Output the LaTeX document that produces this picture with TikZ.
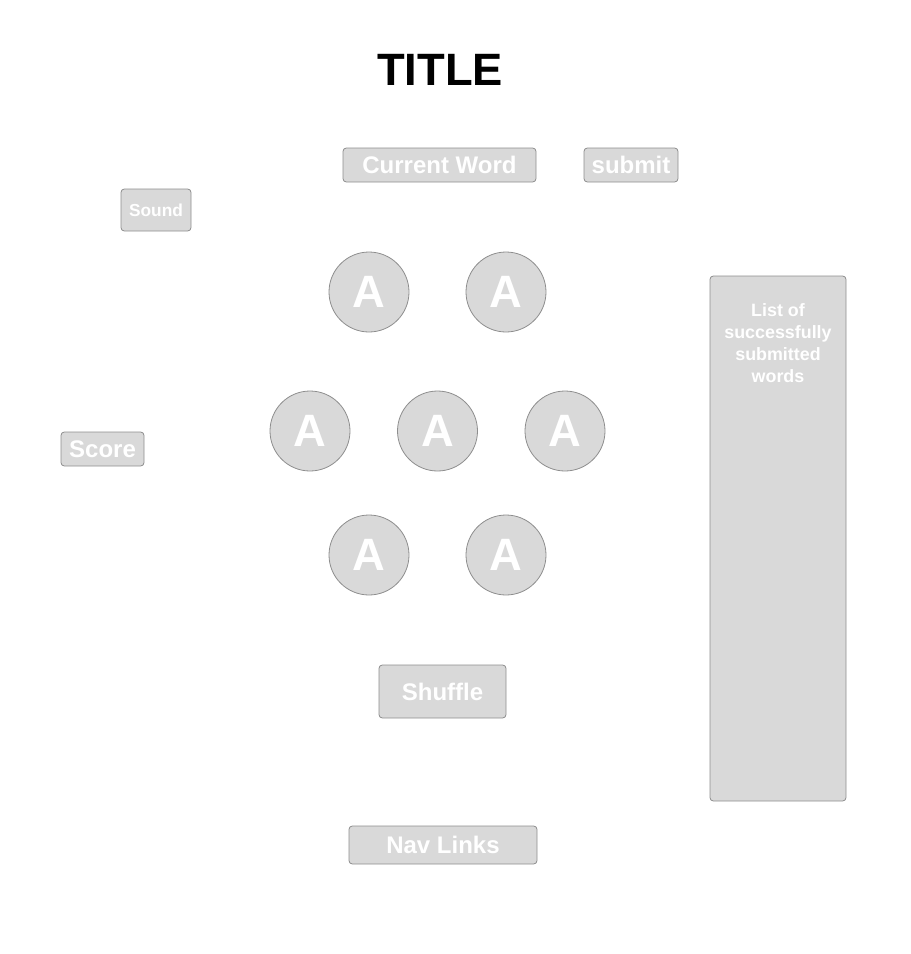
\documentclass[tikz,border=0pt]{standalone}
\usepackage{fontspec}
\setmainfont{Liberation Sans}
\usetikzlibrary{positioning}

\definecolor{boxgray}{HTML}{D9D9D9}
\definecolor{edgegray}{HTML}{8E8E8E}

\tikzset{
    button/.style={draw=edgegray, fill=boxgray, rounded corners=2.5pt, line width=0.6pt,
                   text=white, font=\bfseries\fontsize{18}{22}\selectfont, inner sep=0pt},
    tile/.style={draw=edgegray, fill=boxgray, circle, minimum size=60pt, line width=0.6pt,
                 text=white, font=\bfseries\fontsize{34}{36}\selectfont, inner sep=0pt}
}

\begin{document}
\begin{tikzpicture}[x=0.75pt, y=-0.75pt]
            \useasboundingbox (0, 0) rectangle (911, 954);
            \node (title) [font=\bfseries\fontsize{34}{40}\selectfont] at (440, 70) {TITLE};
            \node[button, minimum width=144.75pt, minimum height=25.5pt] (word) at (439.5, 165) {\raisebox{-0.75pt}{Current Word}};
            \node[button, minimum width=70.5pt, minimum height=25.5pt] (submit) at (631, 165) {\raisebox{-0.75pt}{submit}};
            \node[button, minimum width=52.5pt, minimum height=31.5pt, font=\bfseries\fontsize{13}{15}\selectfont] (sound) at (156, 210) {\raisebox{-0.75pt}{Sound}};
            \node[button, minimum width=62.25pt, minimum height=25.5pt] (score) at (102.5, 449) {\raisebox{-0.75pt}{Score}};
            \node[tile] (a1) at (369, 292) {A};
            \node[tile] (a2) at (506, 292) {A};
            \node[tile] (a3) at (310, 431) {A};
            \node[tile] (a4) at (437.5, 431) {A};
            \node[tile] (a5) at (565, 431) {A};
            \node[tile] (a6) at (369, 555) {A};
            \node[tile] (a7) at (506, 555) {A};
            \node[button, minimum width=95.25pt, minimum height=39.75pt] (shuffle) at (442.5, 691.5) {Shuffle};
            \node[button, minimum width=141pt, minimum height=28.5pt] (nav) at (443, 845) {\raisebox{-0.75pt}{Nav Links}};
            \node[button, minimum width=102pt, minimum height=393.75pt] (list) at (778, 538.5) {};
            \node[text=white, align=center, anchor=north, font=\bfseries\fontsize{13.4}{16.5}\selectfont]
                (listtext) at ([yshift=-17.6pt]list.north) {List of\\successfully\\submitted\\words};
        \end{tikzpicture}
\end{document}
